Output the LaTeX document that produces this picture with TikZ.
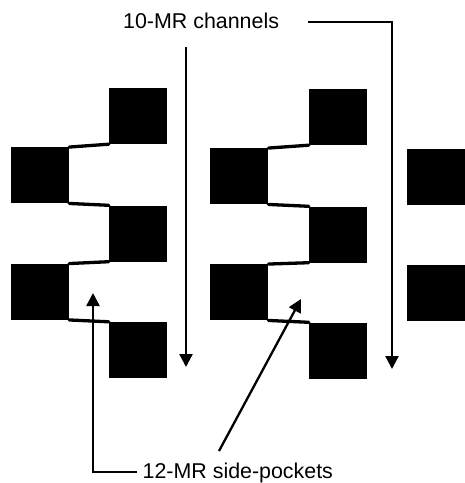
\documentclass[tikz,border=0pt]{standalone}
\usepackage{fontspec}
\setmainfont{Liberation Sans}
\usetikzlibrary{arrows.meta}
\begin{document}
\begin{tikzpicture}[x=1pt,y=-1pt,
  pore/.style={fill=black,draw=none,inner sep=0pt,minimum width=58pt,minimum height=56pt},
  wall/.style={line width=3.3pt,line cap=round},
  pointer/.style={line width=2.3pt,-{Triangle[length=13pt,width=13pt]}},
  caption/.style={inner sep=0pt,anchor=base west,font=\fontsize{21.4pt}{24pt}\selectfont}]
\useasboundingbox (0,0) rectangle (465,483);
% left group
\node[pore] (a1) at (138,116) {};
\node[pore] (b1) at (40,175.25) {};
\node[pore] (c1) at (138,233.5) {};
\node[pore] (d1) at (40,291.75) {};
\node[pore] (e1) at (138,350) {};
% middle group
\node[pore] (a2) at (338,117) {};
\node[pore] (b2) at (239.25,176.25) {};
\node[pore] (c2) at (338,234.5) {};
\node[pore] (d2) at (239.25,292.25) {};
\node[pore] (e2) at (338,350.5) {};
% right column
\node[pore] (r1) at (436,176.75) {};
\node[pore] (r2) at (436,292.75) {};
% walls
\draw[wall] (b1.north east) -- (a1.south west);
\draw[wall] (b1.south east) -- (c1.north west);
\draw[wall] (d1.north east) -- (c1.south west);
\draw[wall] (d1.south east) -- (e1.north west);
\draw[wall] (b2.north east) -- (a2.south west);
\draw[wall] (b2.south east) -- (c2.north west);
\draw[wall] (d2.north east) -- (c2.south west);
\draw[wall] (d2.south east) -- (e2.north west);
% labels
\node[caption] (top) at (123,28) {10-MR channels};
\node[caption] (bottom) at (142.5,478) {12-MR side-pockets};
% free ends
\coordinate (c1s) at (186,47);
\coordinate (c1t) at (186,367);
\coordinate (c2s) at (308,22);
\coordinate (c2k) at (392,22);
\coordinate (c2t) at (392,369);
\coordinate (p1s) at (137,472);
\coordinate (p1k) at (93,472);
\coordinate (p1t) at (93,293);
\coordinate (p2s) at (219,451);
\coordinate (p2t) at (301,299);
% arrows
\draw[pointer] (c1s) -- (c1t);
\draw[pointer] (c2s) -- (c2k) -- (c2t);
\draw[pointer] (p1s) -- (p1k) -- (p1t);
\draw[pointer] (p2s) -- (p2t);
\end{tikzpicture}
\end{document}
